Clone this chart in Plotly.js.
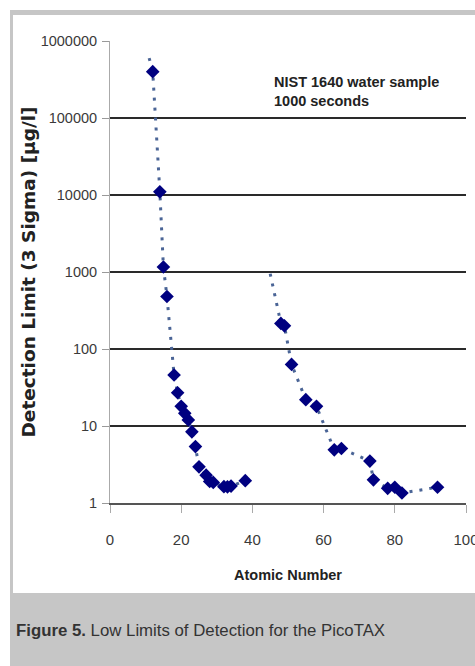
<!DOCTYPE html>
<html><head><meta charset="utf-8">
<script src="https://cdn.plot.ly/plotly-3.0.1.min.js"></script>
<style>html,body{margin:0;padding:0;background:#fff;} #chart{width:475px;height:666px;}</style>
</head><body><div id="chart"></div>
<script>
// Series 1: light elements (atomic number vs detection limit, µg/l)
const lightZ = [11, 12, 14, 15, 16, 18, 19, 20, 21, 22, 23, 24, 25, 27, 28, 29, 32, 33, 34, 38];
const lightLimit = [600000, 400000, 11000, 1160, 480, 46, 27, 18, 14.6, 12, 8.4, 5.4, 2.95, 2.3, 1.9, 1.85, 1.63, 1.62, 1.66, 1.95];
const lightShown = [false, true, true, true, true, true, true, true, true, true, true, true, true, true, true, true, true, true, true, true];
// Series 2: heavy elements
const heavyZ = [45, 48, 49, 51, 55, 58, 63, 65, 73, 74, 78, 80, 82, 92];
const heavyLimit = [950, 215, 200, 63, 22, 18, 4.9, 5.1, 3.5, 2.0, 1.55, 1.6, 1.35, 1.6];
const heavyShown = [false, true, true, true, true, true, true, true, true, true, true, true, true, true];
// Axis ticks
const yTickVals = [1, 10, 100, 1000, 10000, 100000, 1000000];
const yTickText = ['1', '10', '100', '1000', '10000', '100000', '1000000'];
const yGridVals = [10, 100, 1000, 10000, 100000];
const xTickVals = [0, 20, 40, 60, 80, 100];
const xTickText = ['0', '20', '40', '60', '80', '100'];

const SANS = 'Liberation Sans, Arial, sans-serif';
const MARK = 10.5;

function series(x, y, shown) {
  return {
    x: x, y: y, type: 'scatter', mode: 'lines+markers', yaxis: 'y',
    line: {color: '#4a6496', width: 3, dash: '3px,7px'},
    marker: {symbol: 'diamond', color: '#000080', opacity: 1, line: {width: 0},
             size: shown.map(s => s ? MARK : 0)},
    hoverinfo: 'x+y', showlegend: false
  };
}

const data = [
  series(lightZ, lightLimit, lightShown),
  series(heavyZ, heavyLimit, heavyShown),
  // empty trace so the labelled overlay axis is built
  {x: [], y: [], type: 'scatter', mode: 'markers', yaxis: 'y2', showlegend: false, hoverinfo: 'skip'}
];

const L = 110, R = 466, T = 41, B = 503;
const px = v => (v - L) / (R - L);
const py = v => (B - v) / (B - T);

const layout = {
  width: 475, height: 666,
  margin: {l: L, r: 475 - R, t: T, b: 666 - B},
  paper_bgcolor: '#ffffff',
  plot_bgcolor: '#c9c7cc',
  font: {family: SANS, color: '#333'},
  xaxis: {
    range: [0, 100], tickvals: xTickVals, ticktext: xTickText,
    ticks: 'outside', ticklen: 8, tickcolor: '#aaa', tickwidth: 1,
    showline: true, linecolor: '#555', linewidth: 1.5,
    showgrid: false, zeroline: false,
    tickfont: {family: SANS, size: 15, color: '#3a3a3a'},
    ticklabelstandoff: 14, ticklabeloverflow: 'allow',
    title: {text: '<b>Atomic Number</b>', font: {family: SANS, size: 14.5, color: '#222'}, standoff: 23}
  },
  yaxis: {
    type: 'log', range: [0, 6], autorange: false,
    tickvals: yGridVals, showticklabels: false, ticks: '',
    showgrid: true, gridcolor: '#2a2a2a', gridwidth: 1.5,
    showline: true, linecolor: '#aaa', linewidth: 1, zeroline: false
  },
  yaxis2: {
    type: 'log', range: [0, 6], autorange: false, overlaying: 'y', side: 'left',
    tickvals: yTickVals, ticktext: yTickText,
    ticks: 'outside', ticklen: 7, tickcolor: '#999', tickwidth: 1,
    showgrid: false, showline: false, zeroline: false,
    tickfont: {family: SANS, size: 14.5, color: '#3a3a3a'},
    ticklabelstandoff: 2,
    title: {text: '<b>Detection Limit (3 Sigma) [µg/l]</b>', font: {family: 'DejaVu Sans, sans-serif', size: 18.5, color: '#222'}, standoff: 0}
  },
  shapes: [
    {type: 'rect', xref: 'paper', yref: 'paper', layer: 'below',
     x0: px(10), x1: px(476), y0: py(667), y1: py(10), fillcolor: '#c6c6c6', line: {width: 0}},
    {type: 'rect', xref: 'paper', yref: 'paper', layer: 'below',
     x0: px(13), x1: px(476), y0: py(593), y1: py(15), fillcolor: '#ffffff', line: {width: 0}}
  ],
  annotations: [
    {xref: 'paper', yref: 'paper', x: px(272), y: py(91.5), xanchor: 'left', yanchor: 'middle', align: 'left',
     showarrow: false, text: '<b>NIST 1640 water sample<br>1000 seconds</b>',
     font: {family: SANS, size: 14.5, color: '#222'}},
    {xref: 'paper', yref: 'paper', x: px(14), y: py(630), xanchor: 'left', yanchor: 'middle', align: 'left',
     showarrow: false, text: '<b>Figure 5.</b> Low Limits of Detection for the PicoTAX',
     font: {family: SANS, size: 16.8, color: '#333'}}
  ]
};

Plotly.newPlot('chart', data, layout, {displayModeBar: false, staticPlot: true});
</script>
</body></html>
